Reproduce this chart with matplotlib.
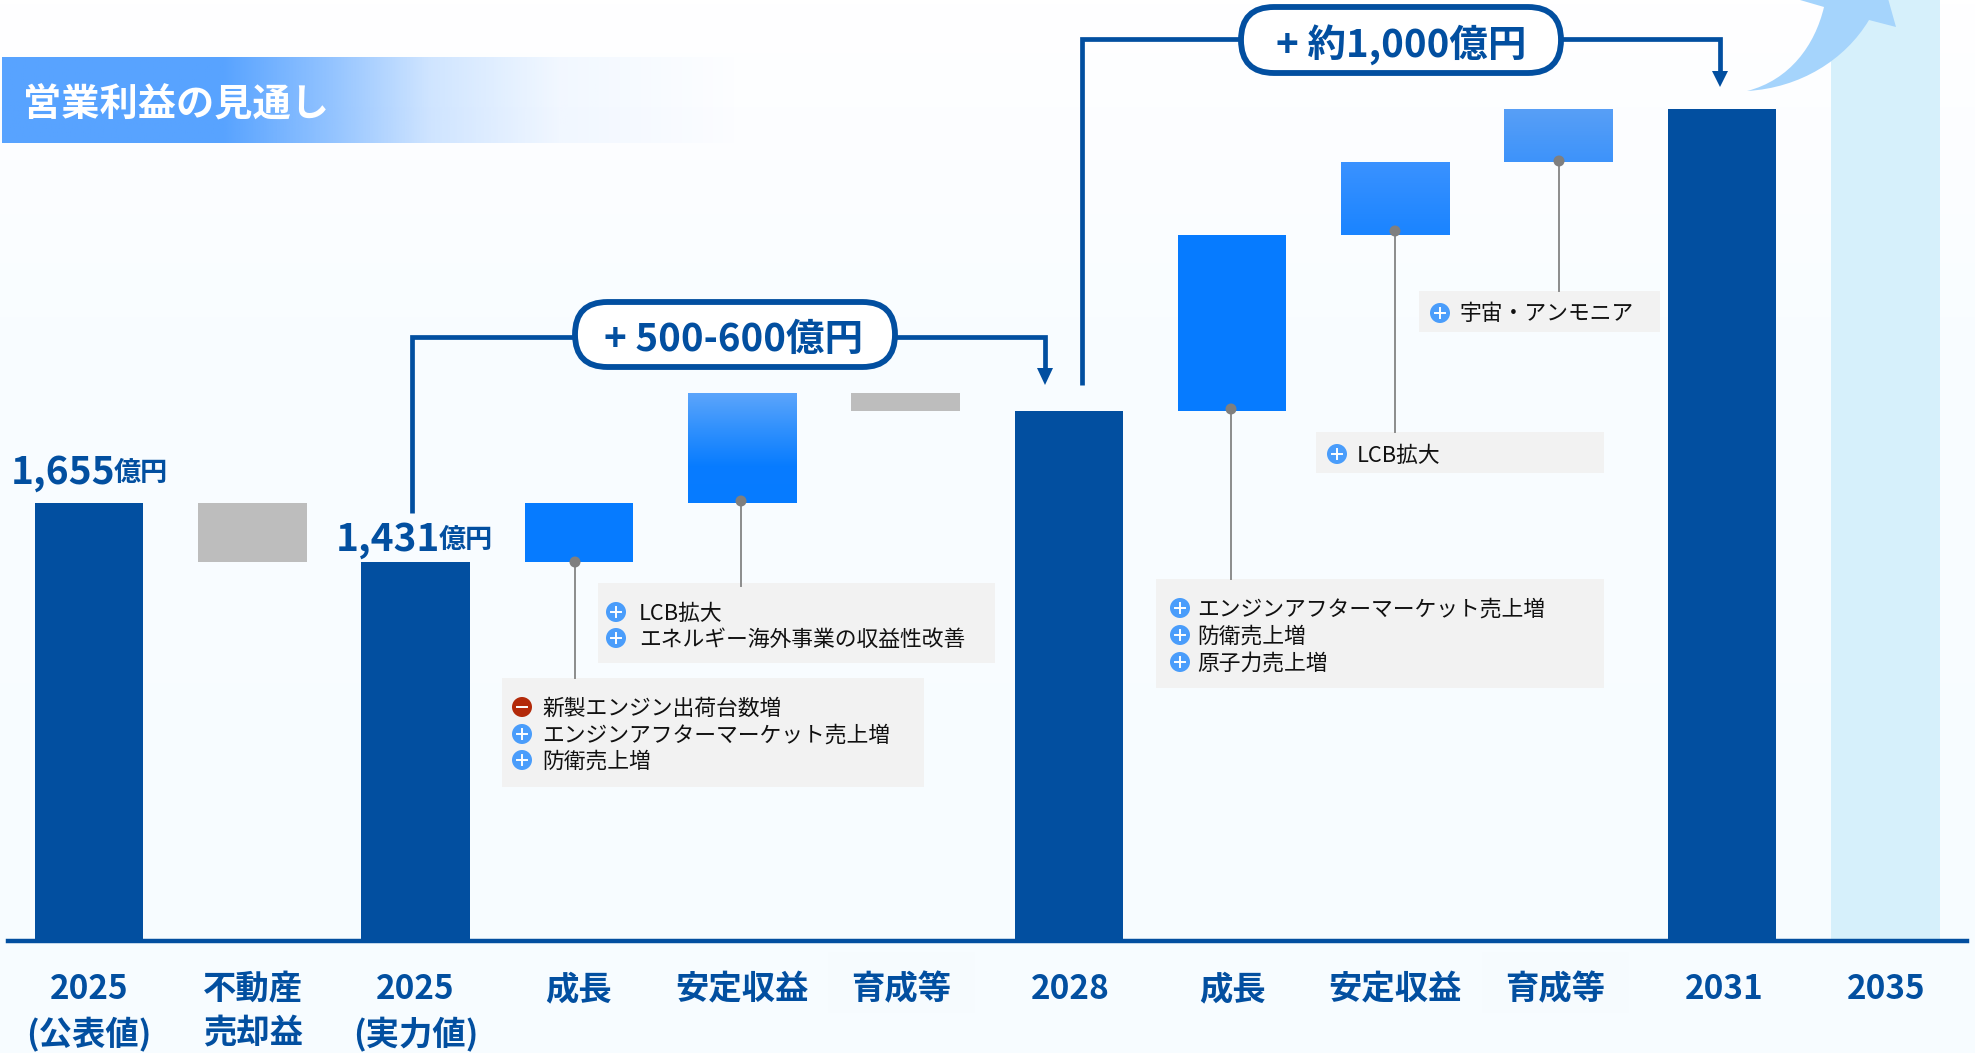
import numpy as np
import matplotlib
matplotlib.use("Agg")
import matplotlib.pyplot as plt
from matplotlib.colors import LinearSegmentedColormap
from matplotlib.patches import Circle, FancyBboxPatch, PathPatch, Polygon, Rectangle
from matplotlib.path import Path
from matplotlib.transforms import ScaledTranslation

plt.rcParams["font.family"] = ["Noto Sans CJK JP", "DejaVu Sans"]

# values in 億円
categories = ["2025\n(公表値)", "不動産\n売却益", "2025\n(実力値)", "成長", "安定収益", "育成等",
              "2028", "成長", "安定収益", "育成等", "2031", "2035"]
bar_bottoms = [0, 1431, 0, 1431, 1655, 2002, 0, 2002, 2666, 2940, 0, 0]
bar_tops = [1655, 1655, 1431, 1655, 2068, 2068, 2002, 2666, 2940, 3140, 3140, 3552]
bar_kinds = ["total", "down", "total", "up", "up", "down", "total", "up", "up", "up", "total", "future"]
title = "営業利益の見通し"
reported_value = 1655
underlying_value = 1431
step_labels = ["+ 500-600億円", "+ 約1,000億円"]
note_a = ["新製エンジン出荷台数増", "エンジンアフターマーケット売上増", "防衛売上増"]
note_a_signs = ["-", "+", "+"]
note_b = ["LCB拡大", "エネルギー海外事業の収益性改善"]
note_c = ["エンジンアフターマーケット売上増", "防衛売上増", "原子力売上増"]
note_d = ["LCB拡大"]
note_e = ["宇宙・アンモニア"]

DARK = "#024fa0"
BLUE = "#067bff"
GREY = "#bdbdbd"
LIGHT = "#d6f0fb"
W, H = 1975, 1053
BASE_Y = 941
PX_PER_UNIT = 0.26495
X0, DX = 89.0, 163.3

fig = plt.figure(figsize=(W / 100, H / 100), dpi=100)

# background and title band, in pixel coordinates
bg = fig.add_axes([0, 0, 1, 1], zorder=0)
bg.set_axis_off()
bg_cmap = LinearSegmentedColormap.from_list("bg", [(0, "#ffffff"), (0.1, "#fdfeff"), (0.3, "#f9fdff"), (1, "#f7fcff")])
bg.imshow(np.linspace(0, 1, 256).reshape(-1, 1), cmap=bg_cmap, extent=[0, W, H, 0], aspect="auto")
band = np.ones((1, 400, 4))
band[..., :3] = matplotlib.colors.to_rgb("#58a3ff")
band[..., 3] = np.interp(np.linspace(3, 745, 400), [3, 225, 330, 430, 560, 745], [1, 1, 0.65, 0.28, 0.07, 0])
bg.imshow(band, extent=[2, 745, 143, 57], aspect="auto")
for x0, x1 in [(828, 975), (1482, 1629)]:
    bg.add_patch(Rectangle((x0, 952), x1 - x0, 61, facecolor="#f6fbfe", edgecolor="none"))
bg.set_xlim(0, W)
bg.set_ylim(H, 0)

# the bars, on a real axis whose bottom spine is the baseline
ax = fig.add_axes([8 / W, (H - BASE_Y) / H, (1967 - 8) / W, BASE_Y / H], zorder=1)
ax.patch.set_alpha(0)
x = np.arange(len(categories))
colors = {"total": DARK, "down": GREY, "up": BLUE, "future": LIGHT}
bars = ax.bar(x, np.array(bar_tops) - np.array(bar_bottoms), bottom=bar_bottoms, width=0.665,
              color=[colors[k] for k in bar_kinds])

gradients = {4: ["#5ca5fb", "#2f90fd", "#087cff", "#067bff"], 8: ["#3a92ff", "#1a84ff"], 9: ["#589ff6", "#3d93fb"]}
for idx, stops in gradients.items():
    b = bars[idx]
    cmap = LinearSegmentedColormap.from_list("g", stops)
    ax.imshow(np.linspace(0, 1, 128).reshape(-1, 1), cmap=cmap, aspect="auto", zorder=3,
              extent=[b.get_x(), b.get_x() + b.get_width(), b.get_y(), b.get_y() + b.get_height()])

ax.set_xlim((8 - X0) / DX, (1967 - X0) / DX)
ax.set_ylim(0, BASE_Y / PX_PER_UNIT)
ax.set_xticks(x)
ax.set_xticklabels(categories, fontsize=24, fontweight="bold", color=DARK, linespacing=1.42)
ax.tick_params(axis="x", length=0, pad=23)
ax.yaxis.set_visible(False)
for side in ["top", "left", "right"]:
    ax.spines[side].set_visible(False)
ax.spines["bottom"].set_color(DARK)
ax.spines["bottom"].set_linewidth(3.2)

# labels do not sit quite under their bars in the reference
label_nudge_px = [0, 1, 0, 0, 0, -4, 1, 0, 0, -3, 2, 1]
for label, nudge in zip(ax.get_xticklabels(), label_nudge_px):
    label.set_transform(label.get_transform() + ScaledTranslation(nudge / 100, 0, fig.dpi_scale_trans))

# callouts and notes, in pixel coordinates
ov = fig.add_axes([0, 0, 1, 1], zorder=2)
ov.set_axis_off()
ov.patch.set_alpha(0)
ov.set_xlim(0, W)
ov.set_ylim(H, 0)

ov.text(23, 105, title, color="white", fontsize=27.5, fontweight="bold", va="center", ha="left")


def value_label(x_px, base_px, value):
    num = ov.text(x_px, base_px, f"{value:,}", color=DARK, fontsize=28, fontweight="bold", va="baseline", ha="left")
    fig.canvas.draw()
    box = num.get_window_extent()
    ov.text(box.x1 - 2, base_px - 3, "億円", color=DARK, fontsize=19.5, fontweight="bold", va="baseline", ha="left")


value_label(11, 484, reported_value)
value_label(336, 551, underlying_value)


def step_callout(points, head_x, head_base, head_half, tip, pill_x0, pill_x1, pill_y0, pill_y1, label, text_x):
    xs, ys = zip(*points)
    ov.plot(xs, ys, color=DARK, lw=3.4, solid_joinstyle="miter", solid_capstyle="butt")
    ov.add_patch(Polygon([(head_x - head_half, head_base), (head_x + head_half, head_base), (head_x, tip)],
                         closed=True, facecolor=DARK, edgecolor="none"))
    ov.add_patch(FancyBboxPatch((pill_x0, pill_y0), pill_x1 - pill_x0, pill_y1 - pill_y0,
                                boxstyle=f"round,pad=0,rounding_size={(pill_y1 - pill_y0) / 2}",
                                facecolor="white", edgecolor=DARK, lw=4.2, zorder=3))
    ov.text(text_x, (pill_y0 + pill_y1) / 2 + 5, label, color=DARK, fontsize=27.7, fontweight="bold",
            ha="center", va="center", zorder=4)


step_callout([(412, 513), (412, 337), (1045, 337), (1045, 372)], 1045, 368, 8, 385,
             575, 895, 302, 367, step_labels[0], 734)
step_callout([(1082, 385), (1082, 39), (1720, 39), (1720, 75)], 1720, 71, 8, 87,
             1241, 1561, 7, 73, step_labels[1], 1401)

# swoosh arrow heading off the top right
swoosh = Path([(1747, 91), (1800, 88), (1845, 60), (1869, 20), (1896, 27), (1880, -30), (1800, 0), (1824, 7),
               (1815, 45), (1790, 80), (1747, 91)],
              [Path.MOVETO, Path.CURVE4, Path.CURVE4, Path.CURVE4, Path.LINETO, Path.LINETO, Path.LINETO, Path.LINETO,
               Path.CURVE4, Path.CURVE4, Path.CURVE4])
ov.add_patch(PathPatch(swoosh, facecolor="#a5d4fc", edgecolor="none"))


def leader(x_px, y0, y1):
    ov.plot([x_px, x_px], [y0, y1], color="#8c8c8c", lw=1.4, zorder=5)
    ov.add_patch(Circle((x_px, y0), 5.5, facecolor="#7f7f7f", edgecolor="none", zorder=6))


def sign_icon(x_px, y_px, sign):
    color = "#4a9dfb" if sign == "+" else "#b32a0a"
    ov.add_patch(Circle((x_px, y_px), 10, facecolor=color, edgecolor="none", zorder=7))
    ov.plot([x_px - 5, x_px + 5], [y_px, y_px], color="white", lw=1.4, zorder=8)
    if sign == "+":
        ov.plot([x_px, x_px], [y_px - 5, y_px + 5], color="white", lw=1.4, zorder=8)


def note_box(x0, x1, y0, y1, icon_x, text_x, rows, lines, signs=None):
    ov.add_patch(Rectangle((x0, y0), x1 - x0, y1 - y0, facecolor="#f2f2f2", edgecolor="none", zorder=2))
    for i, (row_y, line) in enumerate(zip(rows, lines)):
        sign_icon(icon_x, row_y, signs[i] if signs else "+")
        ov.text(text_x - 1, row_y + 1.5, line, color="#111111", fontsize=15.7, va="center", ha="left", zorder=7)


note_box(502, 924, 678, 787, 522, 543, [707, 734, 760], note_a, note_a_signs)
note_box(598, 995, 583, 663, 616, 640, [612, 638], note_b)
note_box(1156, 1604, 579, 688, 1180, 1198, [608, 635, 662], note_c)
note_box(1316, 1604, 432, 473, 1337, 1358, [454], note_d)
note_box(1419, 1660, 291, 332, 1440, 1460, [313], note_e)

leader(575, 562, 678)
leader(741, 501, 586)
leader(1231, 409, 579)
leader(1395, 231, 432)
leader(1559, 161, 291)

fig.savefig("out.png", dpi=100)
